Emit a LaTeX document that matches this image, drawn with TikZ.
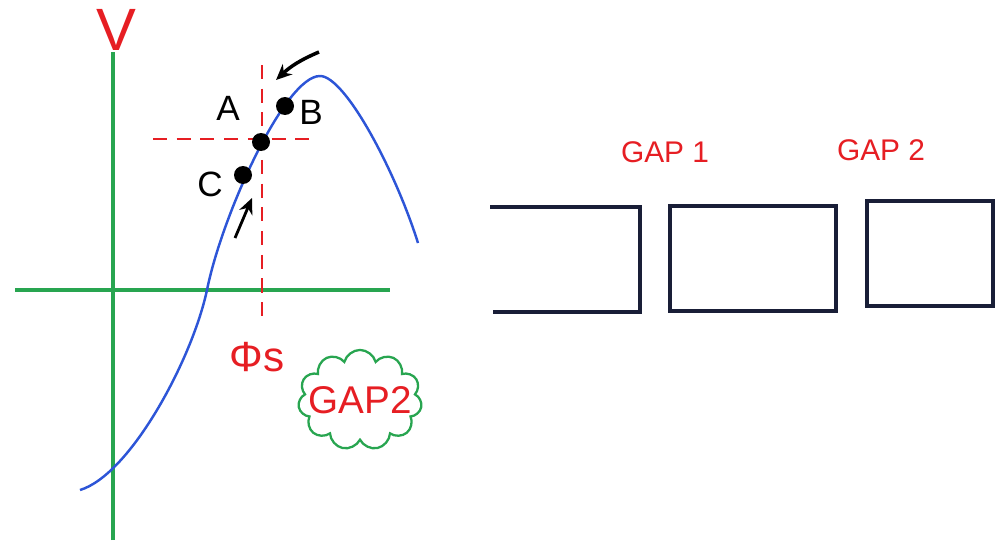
\documentclass[tikz,border=0pt]{standalone}
\usepackage{fontspec}
\setmainfont{Liberation Sans}
\usetikzlibrary{shapes.symbols, arrows.meta}
\definecolor{axisgreen}{RGB}{40,165,80}
\definecolor{curveblue}{RGB}{45,85,215}
\definecolor{markred}{RGB}{230,30,35}
\definecolor{boxink}{RGB}{25,30,55}

\begin{document}
\begin{tikzpicture}[x=0.02cm, y=-0.02cm, >={Stealth[length=9pt, width=8pt]},
    dot/.style={circle, fill=black, inner sep=0pt, minimum size=0.36cm},
    lbl/.style={font=\fontsize{20}{22}\selectfont},
    gaplbl/.style={text=markred, font=\fontsize{17}{20}\selectfont}]
    \useasboundingbox (0,0) rectangle (1003,541);

    % axes
    \draw[axisgreen, line width=2.2pt] (15,290) -- (390,290);
    \draw[axisgreen, line width=2.2pt] (113,540) -- (113,52);
    \node[text=markred, font=\fontsize{34}{36}\selectfont] (V) at (116,30) {V};

    % curve
    \draw[curveblue, line width=1.4pt] (80,490) .. controls (130,475) and (192,360) .. (207,290)
        .. controls (222,215) and (285,76) .. (320,76)
        .. controls (345,76) and (395,170) .. (418,243);

    \draw[markred, line width=1.3pt, dash pattern=on 8pt off 5.5pt] (262,65) -- (262,318);
    \draw[markred, line width=1.3pt, dash pattern=on 8pt off 5.5pt] (153,139) -- (315,139);

    \node[dot] (A) at (261,142) {};
    \node[dot] (B) at (285,106) {};
    \node[dot] (C) at (243,175) {};
    \node[lbl] (labA) at (228,108) {A};
    \node[lbl] (labB) at (311,112) {B};
    \node[lbl] (labC) at (210,184) {C};

    \coordinate (tailB) at (319,52);
    \coordinate (tipB) at (276,80);
    \draw[->, line width=2pt] (tailB) to[bend right=10] (tipB);
    \coordinate (tailC) at (235,238);
    \coordinate (tipC) at (252,198);
    \draw[->, line width=1.6pt] (tailC) -- (tipC);

    \node[text=markred, font=\fontsize{24}{26}\selectfont] (phis) at (257,357) {Φs};
    \node[cloud, cloud puffs=11, aspect=1.4, draw=axisgreen, line width=1.3pt,
        inner sep=-7pt, minimum width=2.4cm, minimum height=1.75cm,
        text=markred, font=\fontsize{22}{24}\selectfont] (gapcloud) at (360,400) {GAP2};

    % gaps
    \draw[boxink, line width=2pt] (490,207) -- (640,207) -- (640,312) -- (493,312);
    \draw[boxink, line width=2pt] (670,206) rectangle (836,311);
    \draw[boxink, line width=2pt] (867,201) rectangle (993,306);
    \node[gaplbl] (gap1) at (665,152) {GAP 1};
    \node[gaplbl] (gap2) at (881,150) {GAP 2};
\end{tikzpicture}
\end{document}
